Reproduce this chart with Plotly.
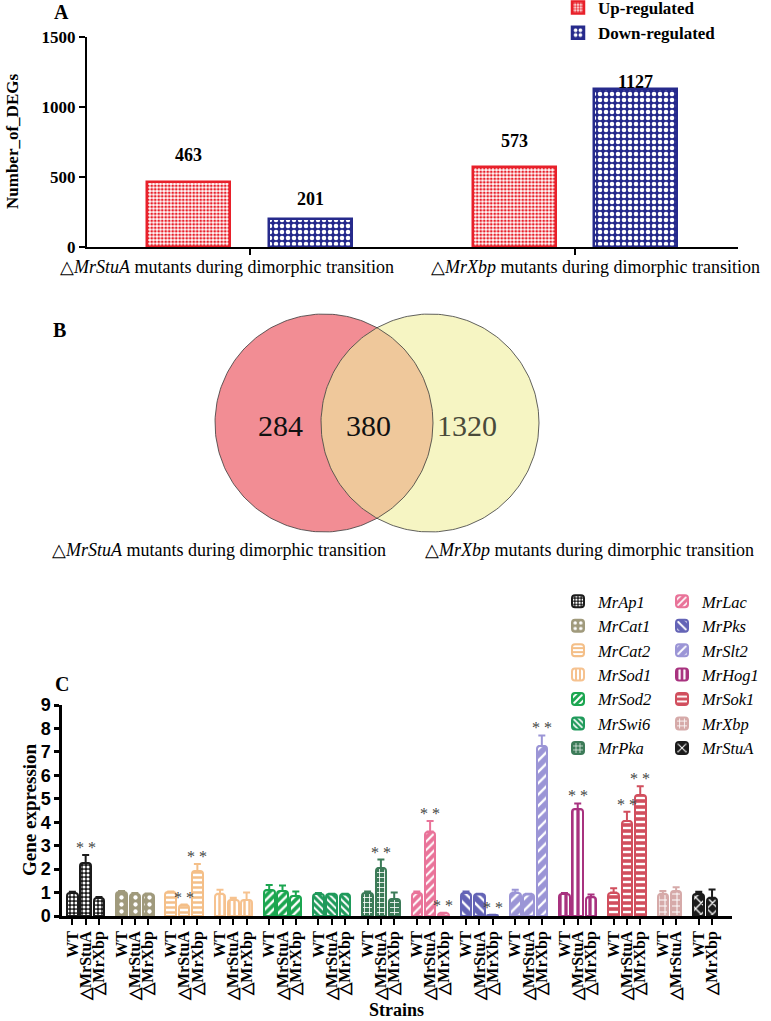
import numpy as np
import plotly.graph_objects as go

W, H = 771, 1021
def fx(p): return p / W
def fy(p): return 1 - p / H

SERIF = "Liberation Serif"
SANS = "Liberation Sans"

# ---------------- Panel A data ----------------
deg_groups = ["dStuA", "dXbp"]
deg_up = [463, 573]
deg_down = [201, 1127]
deg_up_label_shift = [27, 26]
deg_down_label_shift = [20, 7]
group_texts = ["△<i>MrStuA</i> mutants during dimorphic transition",
               "△<i>MrXbp</i> mutants during dimorphic transition"]

# ---------------- Panel B data ----------------
venn_only_stua = 284
venn_both = 380
venn_only_xbp = 1320

# ---------------- Panel C data ----------------
genes = ["MrAp1", "MrCat1", "MrCat2", "MrSod1", "MrSod2", "MrSwi6", "MrPka",
         "MrLac", "MrPks", "MrSlt2", "MrHog1", "MrSok1", "MrXbp", "MrStuA"]
S3 = ["WT", "△MrStuA", "△MrXbp"]
gene_strains = [S3] * 12 + [["WT", "△MrStuA"], ["WT", "△MrXbp"]]
gene_means = [[1.0, 2.25, 0.78], [1.02, 0.95, 0.93], [1.02, 0.45, 1.9],
              [0.95, 0.7, 0.68], [1.1, 1.07, 0.85], [0.95, 0.92, 0.92],
              [1.0, 2.05, 0.72], [1.0, 3.6, 0.12], [0.98, 0.92, 0.04],
              [1.0, 0.92, 7.25], [0.95, 4.55, 0.8], [1.0, 4.05, 5.15],
              [0.95, 1.05], [0.95, 0.78]]
gene_errs = [[0.03, 0.35, 0.03], [0.05, 0.03, 0.03], [0.03, 0.04, 0.32],
             [0.17, 0.08, 0.32], [0.22, 0.23, 0.2], [0.03, 0.03, 0.03],
             [0.05, 0.36, 0.28], [0.05, 0.45, 0.02], [0.06, 0.03, 0.01],
             [0.12, 0.03, 0.45], [0.03, 0.25, 0.12], [0.18, 0.4, 0.38],
             [0.12, 0.18], [0.08, 0.35]]
gene_sig = [[0, 1, 0], [0, 0, 0], [0, 1, 1], [0, 0, 0], [0, 0, 0], [0, 0, 0],
            [0, 1, 0], [0, 1, 1], [0, 0, 1], [0, 0, 1], [0, 1, 0], [0, 1, 1],
            [0, 0], [0, 0]]
gene_colors = ["#1b1b1b", "#a09a7c", "#f4bf88", "#f6c28f", "#1ba650", "#1f9a5b",
               "#3c7b58", "#e97399", "#6464b6", "#9b95d6", "#a8327f", "#d14f5e",
               "#d6aaa9", "#1b1b1b"]
# pattern: (shape, fg, bg, size, solidity)
gene_patterns = [(".", "white", None, 4, 0.45), (".", "white", None, 7, 0.3),
                 ("-", None, "white", 5, 0.5), ("|", None, "white", 5, 0.5),
                 ("/", "white", None, 6, 0.4), ("\\", "white", None, 5, 0.4),
                 ("+", "white", None, 5, 0.3), ("/", "white", None, 6, 0.35),
                 ("\\", "white", None, 8, 0.3), ("/", "white", None, 8, 0.3),
                 ("|", "white", None, 6, 0.45), ("-", "white", None, 6, 0.4),
                 ("+", "white", None, 6, 0.3), ("x", "white", None, 8, 0.3)]

fig = go.Figure()

# ---------------- Panel A ----------------
BW_A = 0.255
fig.add_trace(go.Bar(
    x=deg_groups, y=deg_up, name="Up-regulated", legend="legend",
    width=BW_A, offset=-0.187 - BW_A / 2, xaxis="x", yaxis="y",
    marker=dict(color="#f4a0a4", line=dict(color="#e8202a", width=2.5),
                pattern=dict(shape=".", fgcolor="#e8202a", bgcolor="white",
                             size=3.5, solidity=0.5, fillmode="replace")),
    hoverinfo="skip"))
fig.add_trace(go.Bar(
    x=deg_groups, y=deg_down, name="Down-regulated", legend="legend",
    width=BW_A, offset=0.186 - BW_A / 2, xaxis="x", yaxis="y",
    marker=dict(color="#262a8c", line=dict(color="#262a8c", width=2.5),
                pattern=dict(shape=".", fgcolor="white", bgcolor="#262a8c",
                             size=6, solidity=0.45, fillmode="replace")),
    hoverinfo="skip"))

annotations = []

def pann(px, py, text, size, angle=0, color="black"):
    annotations.append(dict(x=fx(px), y=fy(py), xref="paper", yref="paper",
                            xanchor="center", yanchor="middle", text=text,
                            textangle=angle, showarrow=False,
                            font=dict(family=SERIF, size=size, color=color)))

for i in range(len(deg_groups)):
    annotations.append(dict(x=i - 0.187, y=deg_up[i], xref="x", yref="y",
                            text=f"<b>{deg_up[i]}</b>", showarrow=False,
                            xanchor="center", yanchor="middle",
                            yshift=deg_up_label_shift[i],
                            font=dict(family=SERIF, size=18, color="black")))
    annotations.append(dict(x=i + 0.186, y=deg_down[i], xref="x", yref="y",
                            text=f"<b>{deg_down[i]}</b>", showarrow=False,
                            xanchor="center", yanchor="middle",
                            yshift=deg_down_label_shift[i],
                            font=dict(family=SERIF, size=18, color="black")))

for txt, cx in zip(group_texts, [227, 595]):
    pann(cx, 267, txt, 18)
pann(13, 142, "<b>Number_of_DEGs</b>", 17, angle=-90)
pann(61, 12, "<b>A</b>", 20)

# ---------------- Panel B (Venn) ----------------
cL = (324.0, 423.0)
cR = (430.0, 423.0)
R = 109.0
th = np.linspace(0, 2 * np.pi, 241)
fig.add_trace(go.Scatter(x=cL[0] + R * np.cos(th), y=cL[1] + R * np.sin(th),
                         fill="toself", fillcolor="#f28d94", mode="lines",
                         line=dict(color="rgba(0,0,0,0)", width=0),
                         xaxis="x3", yaxis="y3", showlegend=False, hoverinfo="skip"))
fig.add_trace(go.Scatter(x=cR[0] + R * np.cos(th), y=cR[1] + R * np.sin(th),
                         fill="toself", fillcolor="#f6f5c3", mode="lines",
                         line=dict(color="rgba(0,0,0,0)", width=0),
                         xaxis="x3", yaxis="y3", showlegend=False, hoverinfo="skip"))
d = cR[0] - cL[0]
a = np.arccos((d / 2) / R)
t1 = np.linspace(-a, a, 80)
t2 = np.linspace(np.pi - a, np.pi + a, 80)
lx = np.concatenate([cL[0] + R * np.cos(t1), cR[0] + R * np.cos(t2)])
ly = np.concatenate([cL[1] + R * np.sin(t1), cR[1] + R * np.sin(t2)])
fig.add_trace(go.Scatter(x=lx, y=ly, fill="toself", fillcolor="#efc89b", mode="lines",
                         line=dict(color="rgba(0,0,0,0)", width=0),
                         xaxis="x3", yaxis="y3", showlegend=False, hoverinfo="skip"))
for c in (cL, cR):
    fig.add_trace(go.Scatter(x=c[0] + R * np.cos(th), y=c[1] + R * np.sin(th),
                             mode="lines", line=dict(color="#3a3a3a", width=0.8),
                             xaxis="x3", yaxis="y3", showlegend=False, hoverinfo="skip"))

for val, vx, col in [(venn_only_stua, 280, "#111111"), (venn_both, 368, "#111111"),
                     (venn_only_xbp, 467, "#4a4a3a")]:
    annotations.append(dict(x=vx, y=425, xref="x3", yref="y3", text=str(val),
                            xanchor="center", yanchor="middle",
                            showarrow=False, font=dict(family=SERIF, size=30, color=col)))
for txt, cx in zip(group_texts, [219, 589]):
    pann(cx, 550, txt, 18)
pann(59, 330, "<b>B</b>", 20)

# ---------------- Panel C ----------------
positions = []
cur = 0.0
for strains in gene_strains:
    pos = [cur + j for j in range(len(strains))]
    positions.append(pos)
    cur = pos[-1] + 1.7

BW_C = 0.8
tickvals, ticktext = [], []
for gi, g in enumerate(genes):
    col = gene_colors[gi]
    shp, fg, bg, sz, sol = gene_patterns[gi]
    fgc = fg if fg else col
    bgc = bg if bg else col
    fig.add_trace(go.Bar(
        x=positions[gi], y=gene_means[gi], name=g,
        legend="legend2" if gi < 7 else "legend3",
        width=BW_C, offset=-BW_C / 2, xaxis="x2", yaxis="y2",
        marker=dict(color=col, line=dict(color=col, width=2), cornerradius=3,
                    pattern=dict(shape=shp, fgcolor=fgc, bgcolor=bgc, size=sz,
                                 solidity=sol, fillmode="replace")),
        error_y=dict(type="data", array=gene_errs[gi],
                     arrayminus=[0] * len(gene_errs[gi]), symmetric=False,
                     color=col, thickness=2, width=3.5),
        hoverinfo="skip"))
    tickvals += positions[gi]
    ticktext += gene_strains[gi]
    for j, s in enumerate(gene_sig[gi]):
        if s:
            annotations.append(dict(x=positions[gi][j], y=gene_means[gi][j] + gene_errs[gi][j],
                                    xref="x2", yref="y2", text="* *", showarrow=False,
                                    xanchor="center", yanchor="bottom", yshift=-3,
                                    font=dict(family=SERIF, size=16, color="#444444")))

pann(29, 810, "<b>Gene expression</b>", 19, angle=-90)
pann(397, 1010, "<b>Strains</b>", 18)
pann(62, 684, "<b>C</b>", 20)

axis_common = dict(showgrid=False, zeroline=False, showline=True, linecolor="black",
                   ticks="outside", tickcolor="black")

fig.update_layout(
    width=W, height=H, autosize=False,
    margin=dict(l=0, r=0, t=0, b=0, pad=0, autoexpand=False),
    paper_bgcolor="white", plot_bgcolor="rgba(0,0,0,0)",
    font=dict(family=SERIF, color="black"),
    bargap=0, barmode="overlay",
    xaxis=dict(domain=[fx(87), fx(738)], anchor="y", type="category",
               range=[-0.5, 1.5], linewidth=2, ticklen=6, tickwidth=2,
               showticklabels=False, automargin=False, **axis_common),
    yaxis=dict(domain=[fy(247), fy(37)], anchor="x", range=[0, 1500],
               tickvals=[0, 500, 1000, 1500], linewidth=2, ticklen=6, tickwidth=2,
               automargin=False,
               tickfont=dict(family=SERIF, size=17, weight="bold", color="black"),
               **axis_common),
    xaxis2=dict(domain=[fx(62), fx(732)], anchor="y2", range=[-0.78, 49.6],
                tickvals=tickvals, ticktext=ticktext, tickangle=-90,
                linewidth=2.5, ticklen=6, tickwidth=2, automargin=False,
                tickfont=dict(family=SERIF, size=16, weight="bold", color="black"),
                **axis_common),
    yaxis2=dict(domain=[fy(916), fy(705)], anchor="x2", range=[0, 9], dtick=1,
                linewidth=2.5, ticklen=5, tickwidth=2.5, automargin=False,
                tickfont=dict(family=SANS, size=18, weight="bold", color="black"),
                **axis_common),
    xaxis3=dict(domain=[0, 1], anchor="y3", range=[0, W], visible=False),
    yaxis3=dict(domain=[fy(600), fy(290)], anchor="x3", range=[600, 290], visible=False),
    legend=dict(x=fx(558), y=fy(-10), xanchor="left", yanchor="top",
                bgcolor="rgba(0,0,0,0)",
                font=dict(family=SERIF, size=17, weight="bold", color="black")),
    legend2=dict(x=fx(558), y=fy(584), xanchor="left", yanchor="top",
                 bgcolor="rgba(0,0,0,0)",
                 font=dict(family=SERIF, size=16.5, style="italic", color="black")),
    legend3=dict(x=fx(662), y=fy(584), xanchor="left", yanchor="top",
                 bgcolor="rgba(0,0,0,0)",
                 font=dict(family=SERIF, size=16.5, style="italic", color="black")),
    annotations=annotations,
)

fig.write_html("out.html",
               config={"displayModeBar": False},
               post_script="document.body.style.margin='0px';"
                           "document.body.style.overflow='hidden';")
